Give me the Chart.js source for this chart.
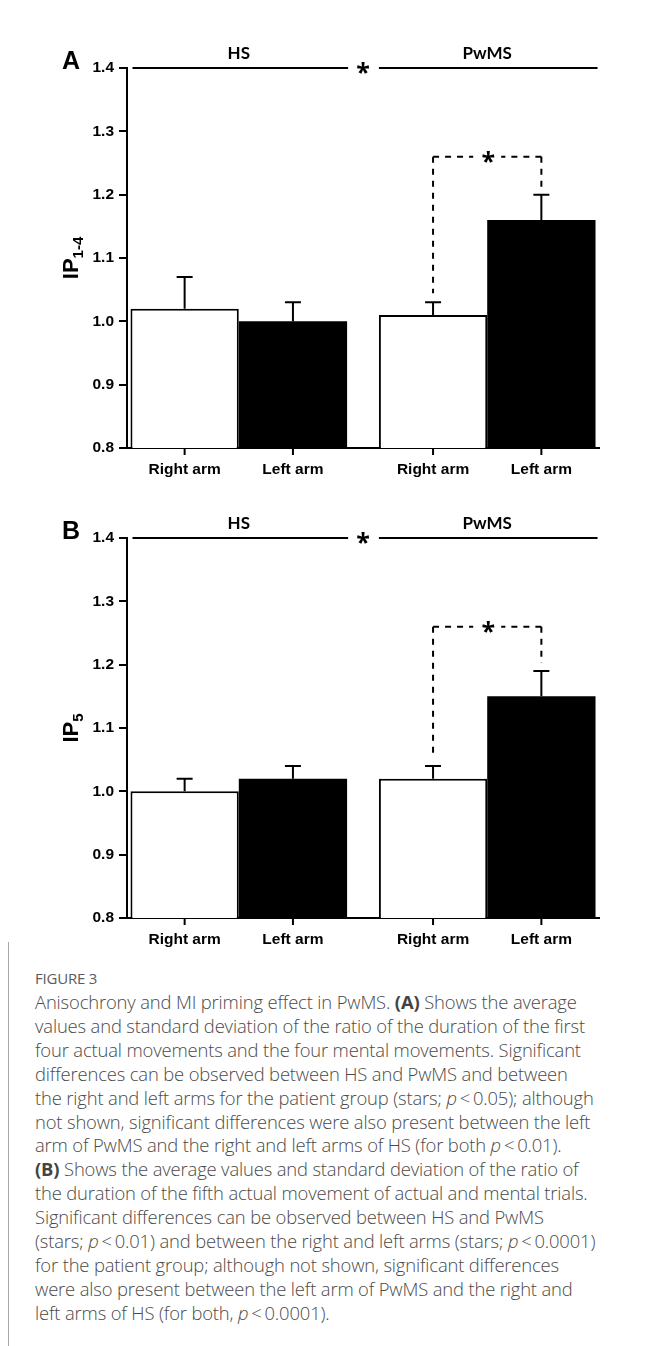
<!DOCTYPE html>
<html>
<head>
<meta charset="utf-8">
<script src="https://cdn.jsdelivr.net/npm/chart.js@4.4.1/dist/chart.umd.min.js"></script>
<style>
  html, body { margin: 0; padding: 0; background: #fff; }
  body { width: 646px; height: 1346px; position: relative; overflow: hidden; }
  canvas { position: absolute; left: 0; }
  #chartA { top: 0; }
  #chartB { top: 470px; }
  #rule { position: absolute; left: 8px; top: 942px; width: 1px; height: 404px; background: #a8a8a8; }
  #caption { position: absolute; left: 35px; top: 970px; font-family: "Open Sans", sans-serif; color: #4a4a4a; }
  #caption .fig { font-size: 15px; line-height: 16px; color: #5a5a5a; letter-spacing: -0.2px; }
  #caption .txt { margin-top: 4px; font-size: 18.4px; line-height: 23.9px; font-weight: 300; white-space: nowrap; letter-spacing: -0.15px; }
  #caption b { font-weight: 700; color: #444; }
</style>
</head>
<body>
<canvas id="chartA" width="646" height="490"></canvas>
<canvas id="chartB" width="646" height="490"></canvas>
<div id="rule"></div>
<div id="caption">
  <div class="fig">FIGURE 3</div>
  <div class="txt">
    Anisochrony and MI priming effect in PwMS. <b>(A)</b> Shows the average<br>
    values and standard deviation of the ratio of the duration of the first<br>
    four actual movements and the four mental movements. Significant<br>
    differences can be observed between HS and PwMS and between<br>
    the right and left arms for the patient group (stars; <i>p</i>&thinsp;&lt;&thinsp;0.05); although<br>
    not shown, significant differences were also present between the left<br>
    arm of PwMS and the right and left arms of HS (for both <i>p</i>&thinsp;&lt;&thinsp;0.01).<br>
    <b>(B)</b> Shows the average values and standard deviation of the ratio of<br>
    the duration of the fifth actual movement of actual and mental trials.<br>
    Significant differences can be observed between HS and PwMS<br>
    (stars; <i>p</i>&thinsp;&lt;&thinsp;0.01) and between the right and left arms (stars; <i>p</i>&thinsp;&lt;&thinsp;0.0001)<br>
    for the patient group; although not shown, significant differences<br>
    were also present between the left arm of PwMS and the right and<br>
    left arms of HS (for both, <i>p</i>&thinsp;&lt;&thinsp;0.0001).
  </div>
</div>

<script>
// groups on the x axis, arms inside each group
const groups = ['HS', 'PwMS'];
const arms   = ['Right arm', 'Left arm'];
const yTicks = [0.8, 0.9, 1.0, 1.1, 1.2, 1.3, 1.4];

// panel A: IP 1-4
const meanRightA = [1.02, 1.01];
const meanLeftA  = [1.00, 1.16];
const sdRightA   = [0.05, 0.02];
const sdLeftA    = [0.03, 0.04];
const sigLevelA  = 1.26;

// panel B: IP 5
const meanRightB = [1.00, 1.02];
const meanLeftB  = [1.02, 1.15];
const sdRightB   = [0.02, 0.02];
const sdLeftB    = [0.02, 0.04];
const sigLevelB  = 1.26;

const ARIAL = '"Liberation Sans", Arial, sans-serif';

function drawStar(ctx, x, y) {
  ctx.save();
  ctx.font = 'bold 25px "Open Sans", sans-serif';
  ctx.textAlign = 'center';
  ctx.textBaseline = 'alphabetic';
  const m = ctx.measureText('*');
  ctx.fillStyle = '#000';
  ctx.fillText('*', x, y + m.actualBoundingBoxAscent - (m.actualBoundingBoxAscent + m.actualBoundingBoxDescent) / 2);
  ctx.restore();
}

const panelDecor = {
  id: 'panelDecor',
  afterDraw(chart, args, o) {
    const ctx = chart.ctx;
    const ys = chart.scales.y;
    const r = chart.getDatasetMeta(0).data;
    const l = chart.getDatasetMeta(1).data;
    const bars = [r[0], l[0], r[1], l[1]].map(b => b.getProps(['x', 'y', 'width', 'base'], true));
    const sds  = [o.sdR[0], o.sdL[0], o.sdR[1], o.sdL[1]];
    const means = [o.meanR[0], o.meanL[0], o.meanR[1], o.meanL[1]];
    const labels = [arms[0], arms[1], arms[0], arms[1]];
    const caps = [];

    ctx.save();
    ctx.strokeStyle = '#000';
    ctx.fillStyle = '#000';
    ctx.lineWidth = 2;

    // error bars (upper only) + x ticks + x labels
    bars.forEach((b, i) => {
      const cy = ys.getPixelForValue(means[i] + sds[i]);
      caps.push(cy);
      ctx.beginPath();
      ctx.moveTo(b.x, b.y);
      ctx.lineTo(b.x, cy);
      ctx.moveTo(b.x - 8, cy);
      ctx.lineTo(b.x + 8, cy);
      ctx.stroke();

      ctx.beginPath();
      ctx.moveTo(b.x, ys.bottom);
      ctx.lineTo(b.x, ys.bottom + 7);
      ctx.stroke();

      ctx.font = 'bold 15.5px ' + ARIAL;
      ctx.textAlign = 'center';
      ctx.textBaseline = 'alphabetic';
      ctx.fillText(labels[i], b.x, ys.bottom + 26);
    });

    // group brackets on the top line
    const top = ys.top;
    const gL0 = bars[0].x - bars[0].width / 2, gR0 = bars[1].x + bars[1].width / 2;
    const gL1 = bars[2].x - bars[2].width / 2, gR1 = bars[3].x + bars[3].width / 2;
    ctx.beginPath();
    ctx.moveTo(gL0 + 2, top); ctx.lineTo(gR0 + 1, top);
    ctx.moveTo(gL1, top);     ctx.lineTo(gR1 + 2, top);
    ctx.stroke();
    drawStar(ctx, (gR0 + gL1) / 2, top);

    ctx.font = 'bold 17px Lato, "Open Sans", sans-serif';
    ctx.textAlign = 'center';
    ctx.fillText(groups[0], (gL0 + gR0) / 2, top - 9);
    ctx.fillText(groups[1], (gL1 + gR1) / 2, top - 9);

    // dashed bracket between PwMS arms
    const yb = ys.getPixelForValue(o.sig);
    const x3 = bars[2].x, x4 = bars[3].x, mid = (x3 + x4) / 2;
    ctx.setLineDash([6, 6]);
    ctx.beginPath();
    ctx.moveTo(x3, yb); ctx.lineTo(mid - 14, yb);
    ctx.moveTo(x3, yb); ctx.lineTo(x3, caps[2] - 9);
    ctx.stroke();
    ctx.beginPath();
    ctx.moveTo(x4, yb); ctx.lineTo(mid + 14, yb);
    ctx.moveTo(x4, yb); ctx.lineTo(x4, caps[3] - 8);
    ctx.stroke();
    ctx.setLineDash([]);
    drawStar(ctx, mid + 1, yb);

    // panel letter
    ctx.font = 'bold 25px ' + ARIAL;
    ctx.textAlign = 'left';
    ctx.fillText(o.letter, 62, 69);

    // y title with subscript
    ctx.translate(78, (ys.top + ys.bottom) / 2);
    ctx.rotate(-Math.PI / 2);
    ctx.font = 'bold 22px ' + ARIAL;
    const w1 = ctx.measureText('IP').width;
    ctx.font = 'bold 15px ' + ARIAL;
    const w2 = ctx.measureText(o.sub).width;
    const x0 = -(w1 + w2) / 2;
    ctx.font = 'bold 22px ' + ARIAL;
    ctx.fillText('IP', x0, 0);
    ctx.font = 'bold 15px ' + ARIAL;
    ctx.fillText(o.sub, x0 + w1, 5);
    ctx.restore();
  }
};

function makePanel(id, letter, sub, meanR, meanL, sdR, sdL, sig) {
  const ctx = document.getElementById(id).getContext('2d');
  return new Chart(ctx, {
    type: 'bar',
    data: {
      datasets: [{
        label: arms[0],
        data: meanR.map((v, i) => ({ x: i, y: v })),
        backgroundColor: '#fff',
        borderColor: '#000',
        borderWidth: 2,
      }, {
        label: arms[1],
        data: meanL.map((v, i) => ({ x: i, y: v })),
        backgroundColor: '#000',
        borderWidth: 0,
      }],
    },
    options: {
      responsive: false,
      animation: false,
      events: [],
      devicePixelRatio: 1,
      categoryPercentage: 0.872,
      barPercentage: 1.0,
      layout: { padding: { left: 0, right: 47, top: 68, bottom: 0 } },
      plugins: {
        legend: { display: false },
        tooltip: { enabled: false },
        panelDecor: { letter, sub, meanR, meanL, sdR, sdL, sig },
      },
      scales: {
        x: {
          type: 'linear',
          min: -0.45,
          max: 1.45,
          offset: false,
          afterBuildTicks: (s) => { s.ticks = groups.map((g, i) => ({ value: i })); },
          ticks: { display: false },
          grid: { display: false },
          border: { display: true, color: '#000', width: 2 },
          afterFit: (s) => { s.height = 42; },
        },
        y: {
          min: yTicks[0],
          max: yTicks[yTicks.length - 1],
          afterBuildTicks: (s) => { s.ticks = yTicks.map((v) => ({ value: v })); },
          ticks: {
            color: '#000',
            padding: 5,
            font: { family: ARIAL, size: 15.5, weight: 'bold' },
            callback: (v) => Number(v).toFixed(1),
          },
          grid: { display: true, drawOnChartArea: false, drawTicks: true, tickLength: 8, color: '#000', lineWidth: 2 },
          border: { display: true, color: '#000', width: 2 },
          afterFit: (s) => { s.width = 127; },
        },
      },
    },
    plugins: [panelDecor],
  });
}

makePanel('chartA', 'A', '1-4', meanRightA, meanLeftA, sdRightA, sdLeftA, sigLevelA);
makePanel('chartB', 'B', '5',   meanRightB, meanLeftB, sdRightB, sdLeftB, sigLevelB);
</script>
</body>
</html>
